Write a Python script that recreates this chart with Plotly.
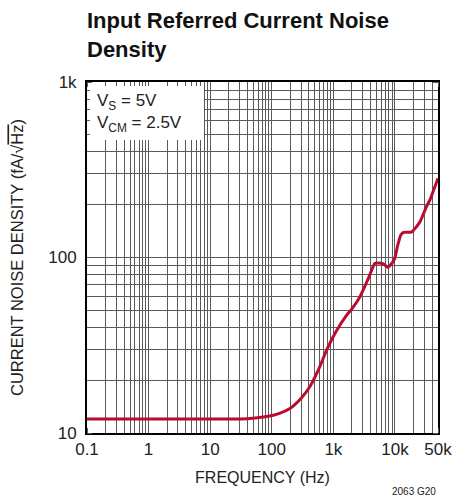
import math
import plotly.graph_objects as go

freq_hz = [0.1, 1, 10, 40, 83, 130, 197, 300, 417, 600, 777, 1100, 1644, 2000,
           2706, 3700, 4700, 5400, 6500, 7640, 9000, 9950, 11000, 12400, 13800,
           18800, 25300, 32500, 37000, 50000]
noise_fa = [12.0, 12.0, 12.0, 12.05, 12.4, 12.9, 13.8, 15.8, 18.4, 23.8, 29.7,
            37.8, 47, 51, 59.8, 76, 92.5, 93, 92, 88, 93, 99, 116, 134, 139,
            140, 159, 195, 213, 283]
x_tickvals = [0.1, 1, 10, 100, 1000, 10000, 50000]
x_ticktext = ["0.1", "1", "10", "100", "1k", "10k", "50k"]
y_tickvals = [10, 100, 1000]
y_ticktext = ["10", "100", "1k"]

FONT = "Liberation Sans, Arial, sans-serif"
GRID = "#5a5a5a"
TXT = "#222"

fig = go.Figure()
fig.add_trace(go.Scatter(
    x=freq_hz, y=noise_fa, mode="lines",
    line=dict(color="#BA0C2F", width=3, shape="spline", smoothing=0.5),
    showlegend=False, hoverinfo="skip"))

axis_common = dict(
    type="log", showline=True, linecolor="black", linewidth=2, mirror="allticks",
    showgrid=True, gridcolor=GRID, gridwidth=1, automargin=False,
    ticks="", tickfont=dict(family=FONT, size=17, color=TXT),
    minor=dict(dtick="D1", showgrid=True, gridcolor=GRID, gridwidth=1,
               ticks="inside", ticklen=5, tickcolor=GRID),
)

fig.update_xaxes(**axis_common,
                 range=[math.log10(0.1) - 1e-6, math.log10(50000) + 1e-6],
                 tickmode="array", tickvals=x_tickvals, ticktext=x_ticktext,
                 ticklabeloverflow="allow",
                 title=dict(text="FREQUENCY (Hz)", font=dict(family=FONT, size=16, color=TXT),
                            standoff=13))
fig.update_yaxes(**axis_common, range=[1, 3], tickmode="array",
                 tickvals=y_tickvals, ticktext=y_ticktext, ticklabelstandoff=5,
                 title=dict(text="CURRENT NOISE DENSITY (fA/√<span style='text-decoration:overline'>Hz</span>)",
                            font=dict(family=FONT, size=16.5, color=TXT), standoff=20))

# white label box
fig.add_shape(type="rect", xref="x domain", yref="y domain",
              x0=3 / 351, x1=117 / 351, y0=1 - 58 / 351, y1=1 - 4 / 351,
              fillcolor="white", line=dict(width=0), layer="above")
fig.add_annotation(xref="x domain", yref="y domain", x=8 / 351, y=1 - 7 / 351,
                   xanchor="left", yanchor="top", align="left", showarrow=False,
                   text="V<sub>S</sub> = 5V<br>V<sub>CM</sub> = 2.5V",
                   font=dict(family=FONT, size=17, color=TXT))

fig.add_annotation(xref="paper", yref="paper", x=-2 / 351, y=1 + 76 / 351,
                   xanchor="left", yanchor="top", align="left", showarrow=False,
                   text="<b>Input Referred Current Noise<br>Density</b>",
                   font=dict(family=FONT, size=22, color="#111"))
fig.add_annotation(xref="paper", yref="paper", x=1, y=-66 / 351,
                   xanchor="right", yanchor="bottom", showarrow=False,
                   text="2063 G20", font=dict(family=FONT, size=10, color=TXT))

fig.update_layout(width=452, height=504, margin=dict(l=87, r=14, t=82, b=71),
                  paper_bgcolor="white", plot_bgcolor="white",
                  font=dict(family=FONT))
# remove the browser's default 8px body margin so the figure fills the window exactly
fig.write_html("out.html", config={"displayModeBar": False},
               post_script="document.body.style.margin='0';")
